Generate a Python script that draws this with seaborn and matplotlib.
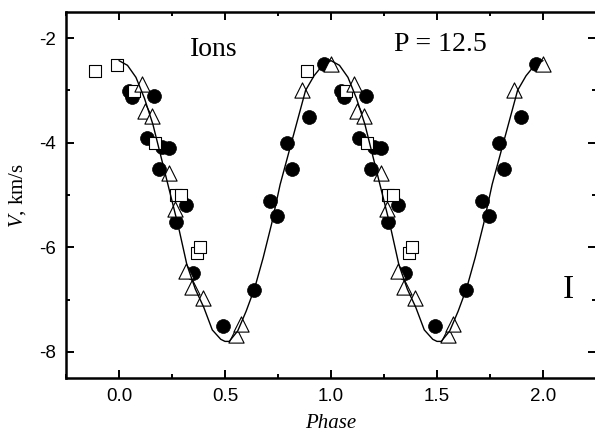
import matplotlib
matplotlib.use("Agg")
import matplotlib.pyplot as plt
import seaborn as sns
import pandas as pd
from matplotlib.ticker import MultipleLocator

# Filled circles
circ_phase = [0.045, 0.061, 0.132, 0.163, 0.191, 0.203, 0.238, 0.268, 0.317,
              0.349, 0.490, 0.638, 0.713, 0.745, 0.792, 0.818, 0.894, 0.968,
              1.045, 1.061, 1.132, 1.163, 1.191, 1.203, 1.238, 1.268, 1.317,
              1.349, 1.490, 1.638, 1.713, 1.745, 1.792, 1.818, 1.894, 1.968]
circ_v = [-3.02, -3.13, -3.91, -3.10, -4.50, -4.08, -4.10, -5.51, -5.20,
          -6.50, -7.51, -6.81, -5.11, -5.40, -4.01, -4.50, -3.51, -2.50,
          -3.02, -3.13, -3.91, -3.10, -4.50, -4.08, -4.10, -5.51, -5.20,
          -6.50, -7.51, -6.81, -5.11, -5.40, -4.01, -4.50, -3.51, -2.50]

# Open squares
sq_phase = [-0.111, -0.010, 0.072, 0.171, 0.271, 0.293, 0.367, 0.383,
            0.889, 1.072, 1.171, 1.271, 1.293, 1.367, 1.383]
sq_v = [-2.63, -2.51, -3.01, -4.00, -5.00, -5.00, -6.10, -6.00,
        -2.63, -3.01, -4.00, -5.00, -5.00, -6.10, -6.00]

# Open triangles
tri_phase = [0.108, 0.124, 0.155, 0.238, 0.265, 0.317, 0.344, 0.396,
             0.553, 0.577, 0.862, 0.999,
             1.108, 1.124, 1.155, 1.238, 1.265, 1.317, 1.344, 1.396,
             1.553, 1.577, 1.862, 1.999]
tri_v = [-2.88, -3.39, -3.48, -4.58, -5.26, -6.46, -6.76, -6.97,
         -7.68, -7.46, -2.99, -2.49,
         -2.88, -3.39, -3.48, -4.58, -5.26, -6.46, -6.76, -6.97,
         -7.68, -7.46, -2.99, -2.49]

# Fitted velocity curve
curve_phase = [0.00, 0.04, 0.08, 0.12, 0.16, 0.20, 0.24, 0.28, 0.32, 0.36,
               0.40, 0.44, 0.48, 0.50, 0.52, 0.56, 0.60, 0.64, 0.68, 0.72,
               0.76, 0.80, 0.84, 0.88, 0.92, 0.96,
               1.00, 1.04, 1.08, 1.12, 1.16, 1.20, 1.24, 1.28, 1.32, 1.36,
               1.40, 1.44, 1.48, 1.50, 1.52, 1.56, 1.60, 1.64, 1.68, 1.72,
               1.76, 1.80, 1.84, 1.88, 1.92, 1.96, 2.00]
curve_v = [-2.43, -2.52, -2.75, -3.15, -3.65, -4.30, -4.95, -5.60, -6.33, -6.80,
           -7.15, -7.58, -7.76, -7.80, -7.80, -7.60, -7.22, -6.78, -6.20, -5.55,
           -4.80, -4.20, -3.60, -3.00, -2.72, -2.52,
           -2.43, -2.52, -2.75, -3.15, -3.65, -4.30, -4.95, -5.60, -6.33, -6.80,
           -7.15, -7.58, -7.76, -7.80, -7.80, -7.60, -7.22, -6.78, -6.20, -5.55,
           -4.80, -4.20, -3.60, -3.00, -2.72, -2.52, -2.43]

x_ticks = [0.0, 0.5, 1.0, 1.5, 2.0]
x_tick_labels = ["0.0", "0.5", "1.0", "1.5", "2.0"]
y_ticks = [-8, -6, -4, -2]
y_tick_labels = ["-8", "-6", "-4", "-2"]

sns.set_theme(style="ticks")
plt.rcParams["axes.unicode_minus"] = False
plt.rcParams["font.family"] = ["Liberation Sans", "DejaVu Sans"]
plt.rcParams["mathtext.fontset"] = "custom"
plt.rcParams["mathtext.it"] = "Liberation Serif:italic"
plt.rcParams["mathtext.rm"] = "Liberation Serif"
plt.rcParams["text.color"] = "black"
plt.rcParams["axes.labelcolor"] = "black"

fig = plt.figure(figsize=(5.95, 4.32), dpi=100)
ax = fig.add_axes([66 / 595, 1 - 378 / 432, 530 / 595, 366 / 432])

circles = pd.DataFrame({"phase": circ_phase, "V": circ_v})
squares = pd.DataFrame({"phase": sq_phase, "V": sq_v})
triangles = pd.DataFrame({"phase": tri_phase, "V": tri_v})
curve = pd.DataFrame({"phase": curve_phase, "V": curve_v})

sns.scatterplot(data=circles, x="phase", y="V", marker="o", s=100,
                color="black", edgecolor="black", linewidth=0.5, ax=ax,
                zorder=3)
sns.scatterplot(data=squares, x="phase", y="V", marker="s", s=64,
                facecolor="white", edgecolor="black", linewidth=0.8, ax=ax,
                zorder=4)
sns.scatterplot(data=triangles, x="phase", y="V", marker="^", s=120,
                facecolor="white", edgecolor="black", linewidth=0.8, ax=ax,
                zorder=5)
sns.lineplot(data=curve, x="phase", y="V", sort=False, estimator=None,
             color="black", linewidth=1.0, ax=ax, zorder=6)

ax.set_xlim(-0.25, 2.25)
ax.set_ylim(-8.5, -1.5)
ax.set_xticks(x_ticks)
ax.set_xticklabels(x_tick_labels)
ax.set_yticks(y_ticks)
ax.set_yticklabels(y_tick_labels)
ax.xaxis.set_minor_locator(MultipleLocator(0.25))
ax.yaxis.set_minor_locator(MultipleLocator(1))
ax.tick_params(which="both", direction="in", top=True, right=True,
               labelsize=13.5, colors="black", width=1.4)
ax.tick_params(which="major", length=6)
ax.tick_params(which="minor", length=3)
ax.tick_params(axis="x", which="major", pad=7)
ax.tick_params(axis="y", which="major", pad=7)
for sp in ax.spines.values():
    sp.set_linewidth(1.8)
    sp.set_color("black")

serif = ["Liberation Serif", "DejaVu Serif"]
ax.set_xlabel("Phase", fontsize=15, fontstyle="italic", family=serif,
              labelpad=7)
ax.set_ylabel(r"$V$, km/s", fontsize=15, family=serif, labelpad=8)

ax.text(0.447, -2.34, "Ions", fontsize=20, family=serif, ha="center",
        va="baseline")
ax.text(1.515, -2.25, "P = 12.5", fontsize=20, family=serif, ha="center",
        va="baseline")
ax.text(2.12, -6.81, "I", fontsize=24, family=serif, ha="center",
        va="center")

if ax.get_legend() is not None:
    ax.get_legend().remove()
fig.savefig("out.png", dpi=100)
